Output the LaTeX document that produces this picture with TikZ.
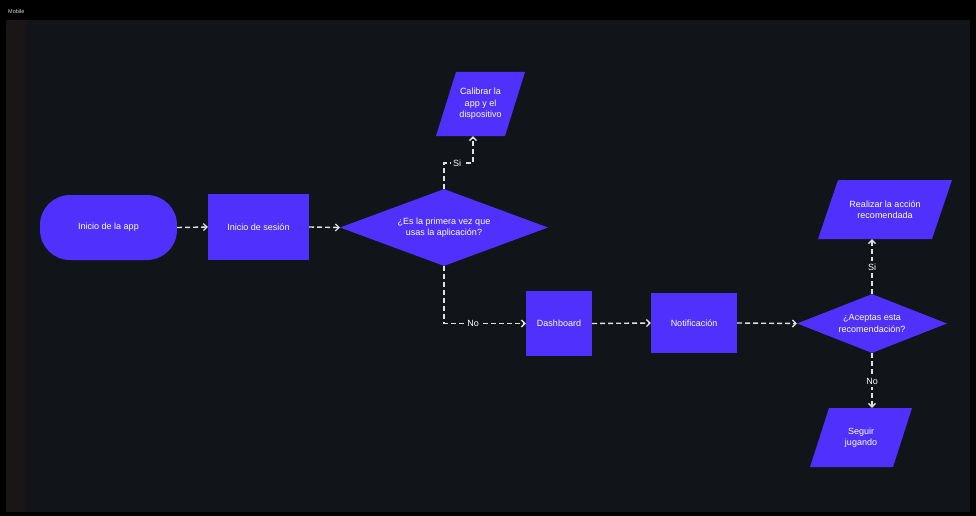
\documentclass[tikz,border=0pt]{standalone}
\usepackage{fontspec}
\setmainfont{Liberation Sans}
\usetikzlibrary{shapes.geometric,arrows.meta}
\definecolor{bgc}{RGB}{17,20,24}
\definecolor{stripc}{RGB}{26,22,21}
\definecolor{boxc}{RGB}{80,48,252}
\definecolor{linec}{RGB}{225,225,225}
\tikzset{
  txt/.style={text=white,font=\fontsize{9}{11.5}\selectfont,align=center},
  boxfill/.style={fill=boxc,draw=none},
  rectbox/.style={boxfill,txt,rectangle,inner sep=0pt},
  decbox/.style={boxfill,txt,diamond,inner sep=0pt},
  parbox/.style={txt,rectangle,inner sep=0pt},
  flow/.style={draw=linec,line width=1.4pt,dash pattern=on 5pt off 3pt,-{Straight Barb[length=3.5pt,width=7pt,line width=1.3pt]}},
  lbl/.style={fill=bgc,text=white,font=\fontsize{9}{10}\selectfont,inner sep=2.5pt}
}
\begin{document}
\begin{tikzpicture}[x=1pt,y=-1pt]
\useasboundingbox (0,0) rectangle (976,516);
\fill[black] (0,0) rectangle (976,516);
\fill[bgc] (6,20) rectangle (970,512);
\fill[stripc] (6,20) rectangle (26,512);
\node[anchor=west,text=white!85!black,font=\fontsize{5.5}{6}\selectfont,inner sep=0pt] (mob) at (8,12) {Mobile};
% nodes
\node[rectbox,rounded corners=30pt,minimum width=137pt,minimum height=65pt] (app) at (108.5,227.5) {Inicio de la app};
\node[rectbox,minimum width=101pt,minimum height=66pt] (ses) at (258.5,227) {Inicio de sesión};
\node[decbox,minimum width=208pt,minimum height=77pt,shape aspect=2.7] (q1) at (444,227.5) {¿Es la primera vez que\\usas la aplicación?};
% Calibrar parallelogram
\fill[boxc] (456,72) -- (525,72) -- (505,136) -- (436,136) -- cycle;
\node[parbox,minimum width=69pt,minimum height=64pt] (cal) at (480.5,104) {Calibrar la\\app y el\\dispositivo};
\node[rectbox,minimum width=66pt,minimum height=65pt] (dash) at (559,323.5) {Dashboard};
\node[rectbox,minimum width=86pt,minimum height=60pt] (noti) at (694,323) {Notificación};
\node[decbox,minimum width=150pt,minimum height=59pt,shape aspect=2.5] (q2) at (872,323.5) {¿Aceptas esta\\recomendación?};
% Realizar parallelogram
\fill[boxc] (838,180) -- (952,180) -- (932,239) -- (818,239) -- cycle;
\node[parbox,minimum width=114pt,minimum height=59pt] (real) at (885,209.5) {Realizar la acción\\recomendada};
% Seguir parallelogram
\fill[boxc] (829,408) -- (912,408) -- (893,467) -- (810,467) -- cycle;
\node[parbox,minimum width=83pt,minimum height=59pt] (seg) at (861,437.5) {Seguir\\jugando};
% connectors
\draw[flow] (app.east) -- (ses.west);
\draw[flow] (ses.east) -- (q1.west);
\coordinate (c1) at (444,163);
\coordinate (c2) at (473,163);
\draw[flow] (q1.north) -- (c1) -- (c2) -- (c2 |- cal.south);
\node[lbl] (si1) at (457,163) {Si};
\coordinate (c3) at (444,323.5);
\draw[flow] (q1.south) -- (c3) -- (dash.west);
\node[lbl] (no1) at (473,323.5) {No};
\draw[flow] (dash.east) -- (noti.west);
\draw[flow] (noti.east) -- (q2.west);
\draw[flow] (q2.north) -- (q2.north |- real.south);
\node[lbl] (si2) at (872,267) {Si};
\draw[flow] (q2.south) -- (q2.south |- seg.north);
\node[lbl] (no2) at (872,381) {No};
\end{tikzpicture}
\end{document}
